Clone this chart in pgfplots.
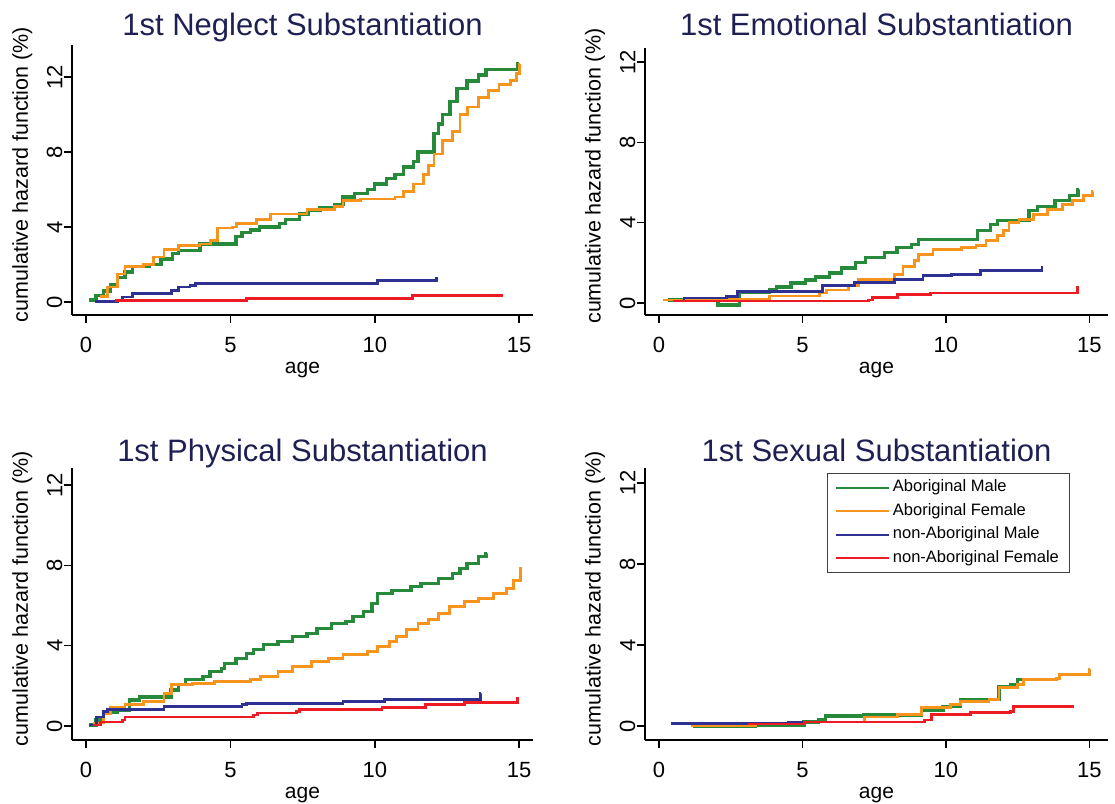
\documentclass[border=0pt]{standalone}
\usepackage{fontspec}
\setmainfont{Liberation Sans}
\usepackage{pgfplots}
\pgfplotsset{compat=1.18}
\definecolor{cgreen}{RGB}{38,138,58}
\definecolor{corange}{RGB}{247,148,29}
\definecolor{cblue}{RGB}{46,49,146}
\definecolor{cred}{RGB}{237,28,36}
\definecolor{ctitle}{RGB}{30,32,84}
\pgfplotsset{
 panel/.style={
  scale only axis, axis x line*=bottom, axis y line*=left,
  axis line style={line width=1.8pt,-},
  xtick={0,5,10,15}, ytick={0,4,8,12},
  tick align=outside, major tick length=8pt,
  tick style={line width=1.6pt, black},
  xlabel={age}, ylabel={cumulative hazard function (\%)},
  tick label style={font=\fontsize{22}{22}\selectfont},
  /pgf/number format/assume math mode=true,
  xticklabel style={yshift=-11pt},
  yticklabel style={rotate=90, anchor=south, inner sep=1.5pt},
  xlabel style={font=\fontsize{21}{21}\selectfont, at={(axis description cs:0.5,0)}, anchor=center, yshift=-55pt},
  ylabel style={font=\fontsize{21.5}{21.5}\selectfont, at={(axis description cs:-0.108,0.52)}, anchor=center},
  title style={at={(axis description cs:0.5,1)}, anchor=base, yshift=4pt, font=\fontsize{31}{31}\selectfont, text=ctitle},
  clip=false,
 },
 sgreen/.style={const plot, no marks, color=cgreen, line width=3.4pt},
 sorange/.style={const plot, no marks, color=corange, line width=2.8pt},
 sblue/.style={const plot, no marks, color=cblue, line width=2.8pt},
 sred/.style={const plot, no marks, color=cred, line width=2.8pt},
}
\begin{document}
\begin{tikzpicture}
\useasboundingbox (0,0) rectangle (1115pt,803pt);
% Panel 1: Neglect
\begin{axis}[panel, at={(72pt,488pt)}, anchor=south west, width=461pt, height=270pt,
  xmin=-0.485, xmax=15.48, ymin=-0.69, ymax=13.71, title={1st Neglect Substantiation},
  title style={yshift=-1pt}]
\addplot[sgreen] coordinates {(0.12,0.1)(0.35,0.35)(0.6,0.6)(0.85,0.9)(1.1,1.3)(1.35,1.6)(1.6,1.9)(2.2,2.0)(2.6,2.3)(3.0,2.6)(3.2,2.75)(3.95,3.1)(5.2,3.5)(5.4,3.7)(5.7,3.85)(6.0,4.0)(6.7,4.2)(6.9,4.4)(7.4,4.7)(7.7,4.9)(8.1,5.05)(8.6,5.2)(8.9,5.6)(9.3,5.8)(9.75,6.0)(10.0,6.3)(10.4,6.6)(10.7,6.8)(11.0,7.2)(11.35,7.5)(11.5,8.0)(12.05,9.0)(12.2,9.5)(12.35,10.0)(12.6,10.7)(12.85,11.4)(13.2,11.8)(13.6,12.1)(13.85,12.4)(14.95,12.7)(15.0,12.7)};
\addplot[sorange] coordinates {(0.5,0.3)(0.75,0.8)(1.1,1.5)(1.35,1.9)(2.0,2.0)(2.35,2.4)(2.7,2.8)(3.2,3.0)(3.95,3.1)(4.3,3.3)(4.55,3.95)(5.06,4.0)(5.2,4.2)(5.9,4.4)(6.4,4.7)(7.65,4.95)(8.6,5.1)(8.9,5.4)(9.5,5.5)(10.7,5.6)(11.0,5.9)(11.35,6.3)(11.7,6.8)(11.85,7.3)(12.05,7.9)(12.35,8.6)(12.7,9.1)(12.95,10.0)(13.2,10.4)(13.6,10.9)(13.95,11.3)(14.3,11.6)(14.7,11.8)(14.9,12.2)(15.0,12.7)(15.02,12.7)};
\addplot[sblue] coordinates {(0.3,0.03)(1.1,0.1)(1.25,0.27)(1.6,0.45)(2.96,0.6)(3.2,0.8)(3.6,0.9)(3.8,1.0)(10.1,1.15)(12.15,1.25)(12.2,1.25)};
\addplot[sred] coordinates {(1.0,0.1)(5.55,0.2)(11.3,0.35)(14.45,0.35)};
\end{axis}
% Panel 2: Emotional
\begin{axis}[panel, at={(645pt,488pt)}, anchor=south west, width=463pt, height=267pt,
  xmin=-0.49, xmax=15.65, ymin=-0.6, ymax=12.7, title={1st Emotional Substantiation},
  title style={yshift=2pt}]
\addplot[sgreen] coordinates {(0.3,0.15)(2.05,-0.1)(2.8,0.55)(3.85,0.65)(4.1,0.8)(4.6,1.0)(5.1,1.15)(5.45,1.3)(5.95,1.5)(6.35,1.75)(6.85,2.0)(7.2,2.25)(7.85,2.5)(8.3,2.75)(8.8,2.9)(9.05,3.15)(11.1,3.6)(11.55,3.9)(11.8,4.1)(12.9,4.6)(13.2,4.8)(13.8,5.1)(14.3,5.35)(14.6,5.65)(14.65,5.65)};
\addplot[sorange] coordinates {(0.12,0.15)(1.0,0.2)(3.85,0.35)(5.6,0.5)(5.85,0.65)(6.6,0.85)(6.95,1.15)(8.2,1.4)(8.5,1.8)(8.9,2.1)(9.05,2.4)(9.55,2.65)(10.55,2.75)(11.05,2.85)(11.4,3.1)(11.8,3.35)(12.0,3.6)(12.2,4.0)(12.55,4.15)(13.05,4.4)(13.55,4.65)(14.05,4.9)(14.4,5.1)(14.8,5.35)(15.1,5.55)(15.12,5.55)};
\addplot[sblue] coordinates {(0.5,0.1)(0.87,0.25)(2.36,0.33)(2.73,0.58)(5.7,0.85)(6.8,1.0)(8.2,1.15)(9.2,1.35)(10.2,1.4)(11.2,1.6)(13.35,1.75)(13.37,1.75)};
\addplot[sred] coordinates {(0.5,0.1)(7.3,0.15)(7.45,0.28)(8.3,0.42)(9.45,0.5)(14.6,0.75)(14.62,0.75)};
\end{axis}
% Panel 3: Physical
\begin{axis}[panel, at={(72pt,63pt)}, anchor=south west, width=461pt, height=272pt,
  xmin=-0.485, xmax=15.48, ymin=-0.7, ymax=12.85, title={1st Physical Substantiation},
  title style={yshift=-4pt}]
\addplot[sgreen] coordinates {(0.1,0.05)(0.35,0.3)(0.6,0.7)(1.1,0.8)(1.5,1.3)(1.85,1.45)(2.95,1.8)(3.2,2.05)(3.45,2.3)(4.05,2.45)(4.3,2.7)(4.7,2.85)(4.8,3.1)(5.2,3.35)(5.55,3.6)(5.8,3.8)(6.15,4.05)(6.65,4.2)(7.15,4.45)(7.65,4.6)(8.0,4.85)(8.5,5.1)(9.0,5.2)(9.25,5.45)(9.6,5.7)(9.9,6.1)(10.1,6.6)(10.6,6.75)(11.25,6.95)(11.6,7.1)(12.2,7.35)(12.7,7.6)(12.95,7.85)(13.2,8.1)(13.6,8.45)(13.85,8.6)(13.9,8.6)};
\addplot[sorange] coordinates {(0.25,0.15)(0.6,0.6)(0.85,0.9)(1.35,1.05)(2.0,1.2)(2.7,1.6)(2.95,2.05)(3.7,2.1)(4.45,2.2)(5.7,2.3)(6.05,2.45)(6.65,2.7)(7.15,2.95)(7.8,3.2)(8.4,3.35)(8.9,3.55)(9.75,3.7)(10.1,3.95)(10.5,4.2)(10.75,4.45)(11.1,4.8)(11.5,5.1)(11.85,5.3)(12.2,5.6)(12.6,5.95)(13.1,6.2)(13.6,6.35)(14.1,6.6)(14.55,6.85)(14.8,7.25)(15.05,7.85)(15.07,7.85)};
\addplot[sblue] coordinates {(0.1,0.05)(0.35,0.45)(0.6,0.7)(0.75,0.8)(2.7,0.95)(5.4,1.05)(5.55,1.1)(8.9,1.2)(10.35,1.3)(13.65,1.6)(13.67,1.6)};
\addplot[sred] coordinates {(0.25,0.05)(0.5,0.2)(1.25,0.3)(1.35,0.45)(5.8,0.55)(5.95,0.65)(7.3,0.7)(7.4,0.8)(10.25,0.92)(11.75,1.05)(13.1,1.15)(14.95,1.35)(14.97,1.35)};
\end{axis}
% Panel 4: Sexual
\begin{axis}[panel, at={(645pt,63pt)}, anchor=south west, width=463pt, height=272pt,
  xmin=-0.49, xmax=15.65, ymin=-0.69, ymax=12.74, title={1st Sexual Substantiation},
  title style={yshift=-4pt},
  legend cell align=left,
  legend image code/.code={\draw[#1,line width=2pt] (0pt,0pt) -- (53pt,0pt);},
  legend style={at={(axis description cs:0.393,0.982)}, anchor=north west, draw=black!75, line width=0.9pt,
    font=\fontsize{16.5}{16.5}\selectfont, row sep=3pt, inner xsep=8pt, inner ysep=4pt,
    nodes={inner sep=2.5pt, text height=12pt, text depth=3.5pt}}]
\addplot[sgreen] coordinates {(1.2,0.0)(3.35,0.05)(5.05,0.2)(5.55,0.3)(5.8,0.5)(7.15,0.55)(9.15,0.8)(9.9,0.95)(10.5,1.3)(11.85,1.95)(12.25,2.05)(12.5,2.3)(13.85,2.35)(13.95,2.55)(15.0,2.8)(15.02,2.8)};
\addlegendentry{Aboriginal Male}
\addplot[sorange] coordinates {(1.1,0.0)(3.35,0.1)(5.05,0.2)(7.15,0.45)(8.3,0.55)(9.15,0.9)(10.15,1.05)(10.5,1.2)(11.5,1.3)(11.85,1.9)(12.5,2.05)(12.7,2.3)(13.85,2.35)(13.95,2.55)(14.85,2.55)(15.0,2.8)(15.02,2.8)};
\addlegendentry{Aboriginal Female}
\addplot[sblue] coordinates {(0.4,0.12)(4.5,0.2)(6.3,0.2)};
\addlegendentry{non-Aboriginal Male}
\addplot[sred] coordinates {(3.1,0.1)(5.05,0.2)(9.25,0.3)(9.5,0.55)(10.85,0.65)(12.25,0.7)(12.35,0.95)(14.45,0.95)};
\addlegendentry{non-Aboriginal Female}
\end{axis}
\end{tikzpicture}
\end{document}
